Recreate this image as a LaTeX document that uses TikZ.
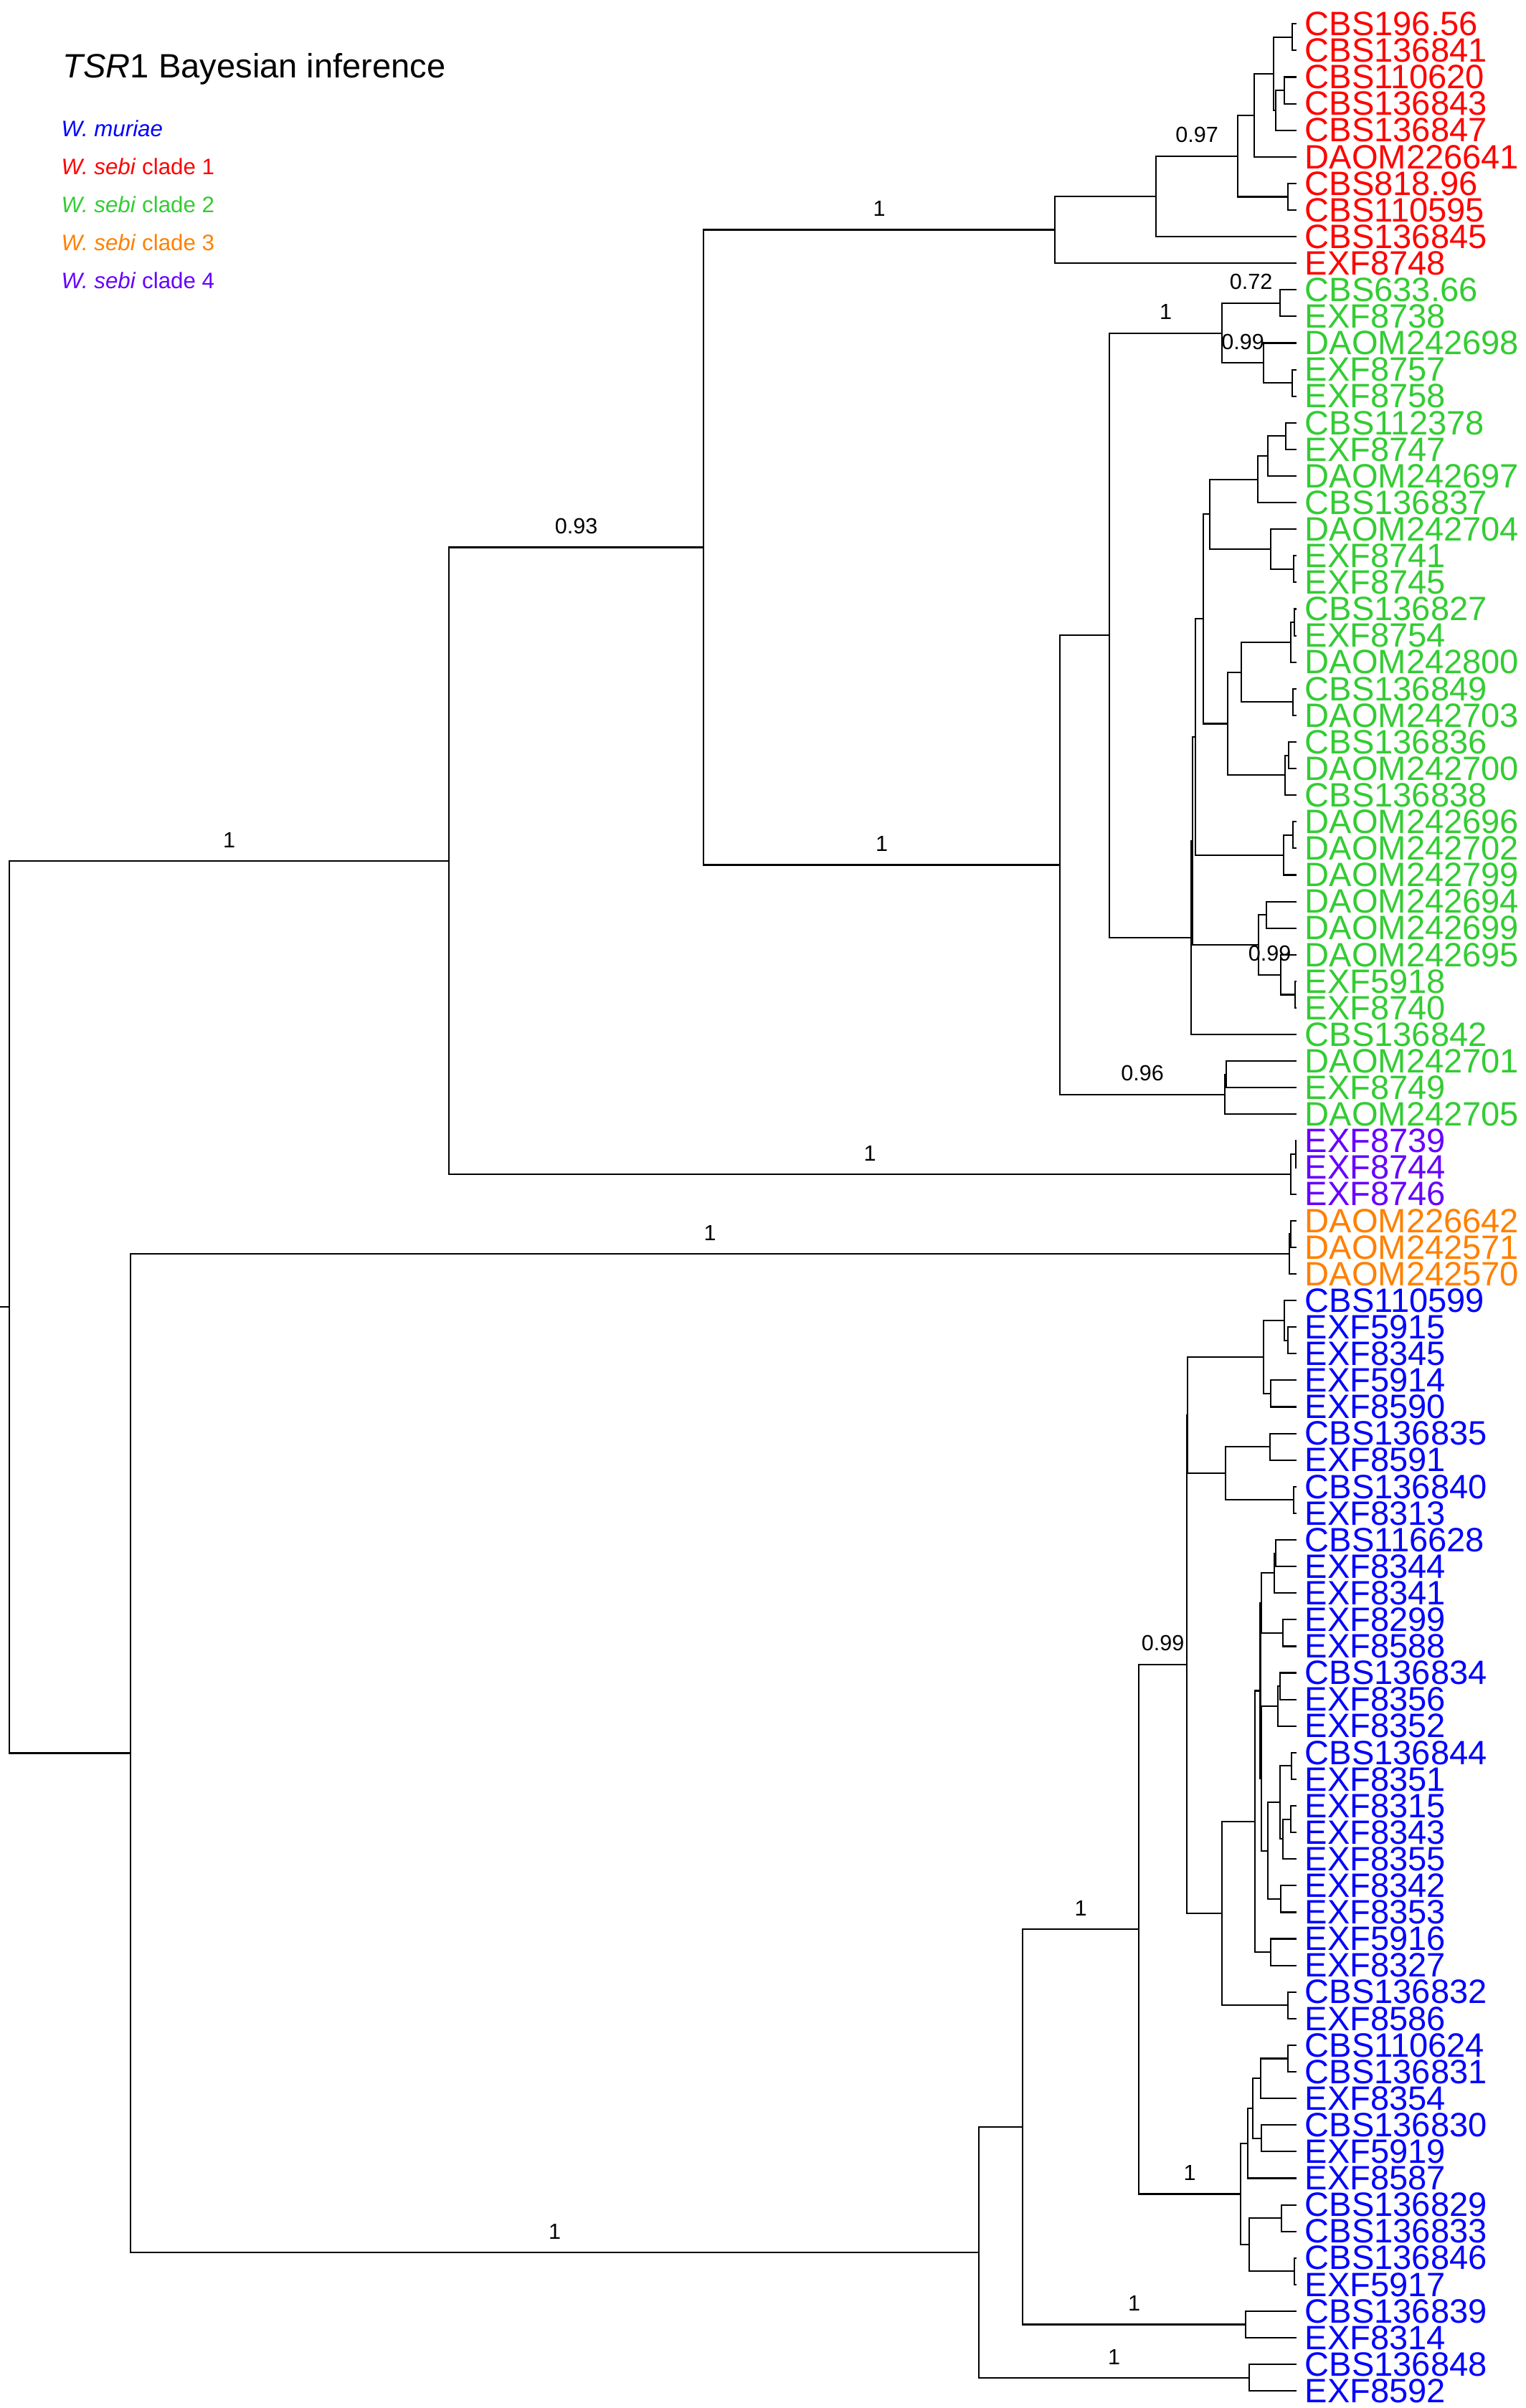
\documentclass[tikz,border=0pt]{standalone}
\usepackage{fontspec}
\setmainfont{Liberation Sans}
\usetikzlibrary{calc}
\definecolor{clred}{RGB}{255,0,0}
\definecolor{clgreen}{RGB}{51,204,51}
\definecolor{clorange}{RGB}{255,128,0}
\definecolor{clblue}{RGB}{0,0,255}
\definecolor{clpurple}{RGB}{102,0,255}
\tikzset{
  branch/.style={line width=0.6pt},
  taxon/.style={anchor=west, inner sep=0pt, xshift=0.11cm, font=\fontsize{13.4}{13.4}\selectfont},
  support/.style={above=0.18cm, inner sep=0pt, font=\fontsize{8.7}{8.7}\selectfont},
  legend/.style={anchor=base west, inner sep=0pt, font=\fontsize{8.9}{8.9}\selectfont},
}
% node at x (cm), halfway between its two children
\newcommand{\clade}[4]{%
  \path let \p1=(#3), \p2=(#4) in (#2cm,{0.5*(\y1+\y2)}) coordinate (#1);
  \draw[branch] (#1) |- (#3) (#1) |- (#4);}
% posterior on the branch from #1 to #2
\newcommand{\supp}[3]{\path (#1) |- (#2) node[support, pos=0.75] {#3};}
\begin{document}
\begin{tikzpicture}
\useasboundingbox (0,0) rectangle (21.28,-33.59);
\coordinate (y0) at (0,0);

% title and legend
\node[anchor=base west, inner sep=0pt, font=\fontsize{13.4}{13.4}\selectfont] (title) at (0.87,-1.08) {\textit{TSR}1 Bayesian inference};
\node[legend, text=clblue] (lgmur) at (0.85,-1.907) {\textit{W. muriae}};
\node[legend, text=clred] (lgc1) at (0.85,-2.433) {\textit{W. sebi} clade 1};
\node[legend, text=clgreen] (lgc2) at (0.85,-2.96) {\textit{W. sebi} clade 2};
\node[legend, text=clorange] (lgc3) at (0.85,-3.493) {\textit{W. sebi} clade 3};
\node[legend, text=clpurple] (lgc4) at (0.85,-4.023) {\textit{W. sebi} clade 4};

% tips
\foreach \txt/\col [count=\i from 0] in {
  CBS196.56/clred, CBS136841/clred, CBS110620/clred, CBS136843/clred, CBS136847/clred,
  DAOM226641/clred, CBS818.96/clred, CBS110595/clred, CBS136845/clred, EXF8748/clred,
  CBS633.66/clgreen, EXF8738/clgreen, DAOM242698/clgreen, EXF8757/clgreen, EXF8758/clgreen,
  CBS112378/clgreen, EXF8747/clgreen, DAOM242697/clgreen, CBS136837/clgreen, DAOM242704/clgreen,
  EXF8741/clgreen, EXF8745/clgreen, CBS136827/clgreen, EXF8754/clgreen, DAOM242800/clgreen,
  CBS136849/clgreen, DAOM242703/clgreen, CBS136836/clgreen, DAOM242700/clgreen, CBS136838/clgreen,
  DAOM242696/clgreen, DAOM242702/clgreen, DAOM242799/clgreen, DAOM242694/clgreen, DAOM242699/clgreen,
  DAOM242695/clgreen, EXF5918/clgreen, EXF8740/clgreen, CBS136842/clgreen, DAOM242701/clgreen,
  EXF8749/clgreen, DAOM242705/clgreen,
  EXF8739/clpurple, EXF8744/clpurple, EXF8746/clpurple,
  DAOM226642/clorange, DAOM242571/clorange, DAOM242570/clorange,
  CBS110599/clblue, EXF5915/clblue, EXF8345/clblue, EXF5914/clblue, EXF8590/clblue,
  CBS136835/clblue, EXF8591/clblue, CBS136840/clblue, EXF8313/clblue, CBS116628/clblue,
  EXF8344/clblue, EXF8341/clblue, EXF8299/clblue, EXF8588/clblue, CBS136834/clblue,
  EXF8356/clblue, EXF8352/clblue, CBS136844/clblue, EXF8351/clblue, EXF8315/clblue,
  EXF8343/clblue, EXF8355/clblue, EXF8342/clblue, EXF8353/clblue, EXF5916/clblue,
  EXF8327/clblue, CBS136832/clblue, EXF8586/clblue, CBS110624/clblue, CBS136831/clblue,
  EXF8354/clblue, CBS136830/clblue, EXF5919/clblue, EXF8587/clblue, CBS136829/clblue,
  CBS136833/clblue, CBS136846/clblue, EXF5917/clblue, CBS136839/clblue, EXF8314/clblue,
  CBS136848/clblue, EXF8592/clblue} {
  \coordinate (l\i) at (18.08,{-0.333-0.371*\i});
  \node[taxon, text=\col] (t\i) at (l\i) {\txt};
}

% W. sebi clade 1
\clade{r1}{18.02}{l0}{l1}
\clade{r2}{17.91}{l2}{l3}
\clade{r3}{17.79}{r2}{l4}
\clade{r4}{17.76}{r1}{r3}
\clade{r5}{17.49}{r4}{l5}
\clade{r6}{17.96}{l6}{l7}
\clade{r7}{17.26}{r5}{r6}
\clade{r8}{16.12}{r7}{l8}
\clade{r9}{14.71}{r8}{l9}
\supp{r8}{r7}{0.97}

% W. sebi clade 2
\clade{g1}{17.85}{l10}{l11}
\clade{g2}{18.02}{l13}{l14}
\clade{g3}{17.62}{l12}{g2}
\clade{g4}{17.04}{g1}{g3}
\clade{g5}{17.93}{l15}{l16}
\clade{g6}{17.68}{g5}{l17}
\clade{g7}{17.54}{g6}{l18}
\clade{g8}{18.04}{l20}{l21}
\clade{g9}{17.72}{l19}{g8}
\clade{g10}{16.87}{g7}{g9}
\clade{g11}{18.05}{l22}{l23}
\clade{g12}{18.00}{g11}{l24}
\clade{g13}{18.03}{l25}{l26}
\clade{g14}{17.31}{g12}{g13}
\clade{g15}{17.97}{l27}{l28}
\clade{g16}{17.92}{g15}{l29}
\clade{g17}{17.12}{g14}{g16}
\clade{g18}{16.78}{g10}{g17}
\clade{g19}{18.03}{l30}{l31}
\clade{g20}{17.90}{g19}{l32}
\clade{g21}{16.67}{g18}{g20}
\clade{g22}{17.66}{l33}{l34}
\clade{g23}{18.06}{l36}{l37}
\clade{g24}{17.86}{l35}{g23}
\clade{g25}{17.55}{g22}{g24}
\clade{g26}{16.63}{g21}{g25}
\clade{g27}{16.61}{g26}{l38}
\clade{g28}{15.47}{g4}{g27}
\clade{g29}{17.10}{l39}{l40}
\clade{g30}{17.08}{g29}{l41}
\clade{g31}{14.78}{g28}{g30}
\supp{g4}{g1}{0.72}
\supp{g4}{g3}{0.99}
\supp{g25}{g24}{0.99}
\supp{g28}{g4}{1}
\supp{g31}{g30}{0.96}

% W. sebi clades 4 and 3
\clade{p1}{18.07}{l42}{l43}
\clade{p2}{18.00}{p1}{l44}
\clade{o1}{18.00}{l45}{l46}
\clade{o2}{17.98}{o1}{l47}

% W. muriae
\clade{b1}{17.96}{l49}{l50}
\clade{b2}{17.91}{l48}{b1}
\clade{b3}{17.72}{l51}{l52}
\clade{b4}{17.62}{b2}{b3}
\clade{b5}{17.71}{l53}{l54}
\clade{b6}{18.04}{l55}{l56}
\clade{b7}{17.09}{b5}{b6}
\clade{b8}{16.56}{b4}{b7}
\clade{b9}{17.79}{l57}{l58}
\clade{b10}{17.77}{b9}{l59}
\clade{b11}{17.89}{l60}{l61}
\clade{b12}{17.59}{b10}{b11}
\clade{b13}{17.85}{l62}{l63}
\clade{b14}{17.82}{b13}{l64}
\clade{b15}{18.01}{l65}{l66}
\clade{b16}{18.00}{l67}{l68}
\clade{b17}{17.89}{b16}{l69}
\clade{b18}{17.85}{b15}{b17}
\clade{b19}{17.86}{l70}{l71}
\clade{b20}{17.68}{b18}{b19}
\clade{b21}{17.59}{b14}{b20}
\clade{b22}{17.575}{b12}{b21}
\clade{b23}{17.72}{l72}{l73}
\clade{b24}{17.50}{b22}{b23}
\clade{b25}{17.96}{l74}{l75}
\clade{b26}{17.04}{b24}{b25}
\clade{b27}{16.55}{b8}{b26}
\clade{b28}{17.96}{l76}{l77}
\clade{b29}{17.58}{b28}{l78}
\clade{b30}{17.59}{l79}{l80}
\clade{b31}{17.47}{b29}{b30}
\clade{b32}{17.40}{b31}{l81}
\clade{b33}{17.87}{l82}{l83}
\clade{b34}{18.05}{l84}{l85}
\clade{b35}{17.42}{b33}{b34}
\clade{b36}{17.30}{b32}{b35}
\clade{b37}{15.88}{b27}{b36}
\clade{b38}{17.37}{l86}{l87}
\clade{b39}{14.26}{b37}{b38}
\clade{b40}{17.42}{l88}{l89}
\clade{b41}{13.65}{b39}{b40}
\supp{b37}{b27}{0.99}
\supp{b37}{b36}{1}
\supp{b39}{b37}{1}
\supp{b39}{b38}{1}
\supp{b41}{b40}{1}

% backbone
\clade{n1}{9.81}{r9}{g31}
\clade{n2}{6.26}{n1}{p2}
\clade{n3}{1.82}{o2}{b41}
\clade{root}{0.13}{n2}{n3}
\coordinate (stub) at (root -| y0);
\draw[branch] (root) -- (stub);
\supp{n1}{r9}{1}
\supp{n1}{g31}{1}
\supp{n2}{n1}{0.93}
\supp{n2}{p2}{1}
\supp{n3}{o2}{1}
\supp{n3}{b41}{1}
\supp{root}{n2}{1}
\end{tikzpicture}
\end{document}
